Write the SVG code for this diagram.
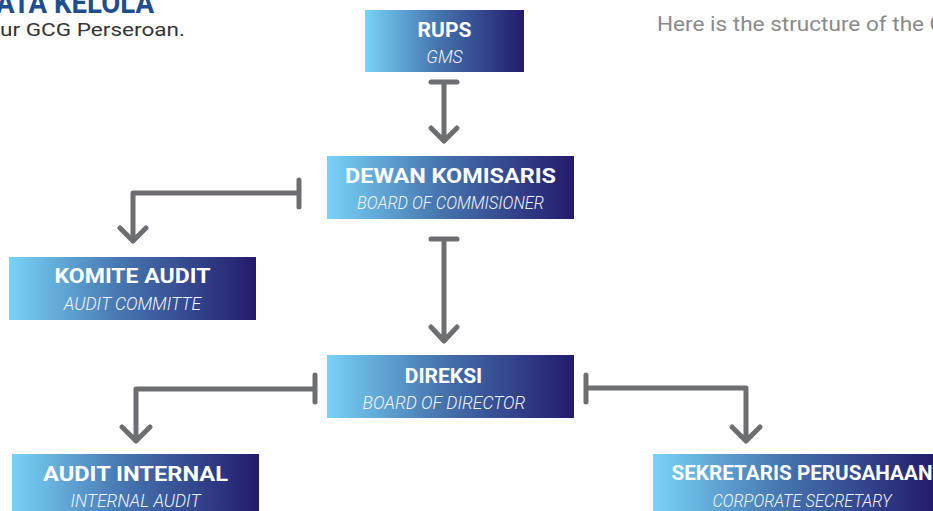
<svg xmlns="http://www.w3.org/2000/svg" width="933" height="511" viewBox="0 0 933 511">
  <defs>
    <linearGradient id="g" x1="0" y1="0" x2="1" y2="0">
      <stop offset="0" stop-color="#78d3f7"/>
      <stop offset="0.45" stop-color="#4676b0"/>
      <stop offset="1" stop-color="#231b6d"/>
    </linearGradient>
    <style>
      .box { fill: url(#g); }
      .t { font-family: Roboto, "Liberation Sans", sans-serif; font-weight: 700; font-size: 21px; fill: #ffffff; text-anchor: middle; }
      .s { font-family: Roboto, "Liberation Sans", sans-serif; font-weight: 300; font-style: italic; font-size: 17.5px; fill: #f2f5fb; text-anchor: middle; }
      .c { fill: none; stroke: #6d6e71; stroke-width: 5; stroke-linecap: round; stroke-linejoin: round; }
      .txt { font-family: Roboto, "Liberation Sans", sans-serif; }
    </style>
  </defs>
  <rect width="933" height="511" fill="#ffffff"/>

  <text class="txt" x="-4" y="13" font-size="29" font-weight="700" fill="#1e4e8c" textLength="158" lengthAdjust="spacingAndGlyphs">ATA KELOLA</text>
  <text class="txt" x="0" y="36" font-size="19" fill="#333333" textLength="185" lengthAdjust="spacingAndGlyphs">ur GCG Perseroan.</text>
  <text class="txt" x="657" y="31" font-size="19.5" fill="#8a8a8a" textLength="288" lengthAdjust="spacingAndGlyphs">Here is the structure of the G</text>

  <g id="connectors">
    <path class="c" d="M431 82 H457 M444 82 V141 M431 128 L444 141 L457 128"/>
    <path class="c" d="M431 239 H457 M444 239 V341 M431 327 L444 341 L457 327"/>
    <path class="c" d="M299 180 V207 M299 193 H133 V241 M120 228 L133 241 L146 228"/>
    <path class="c" d="M315 375 V402 M315 389 H136 V440 M122 427 L136 441 L150 427"/>
    <path class="c" d="M586 375 V402 M586 388 H746 V440 M732 427 L746 441 L760 427"/>
  </g>

  <g id="rups">
    <rect class="box" x="365" y="10" width="159" height="62"/>
    <text class="t" x="444.5" y="37">RUPS</text>
    <text class="s" x="444.5" y="63">GMS</text>
  </g>
  <g id="dewan-komisaris">
    <rect class="box" x="327" y="156" width="247" height="63"/>
    <text class="t" x="450.5" y="183" textLength="211" lengthAdjust="spacingAndGlyphs">DEWAN KOMISARIS</text>
    <text class="s" x="450.5" y="209" textLength="187" lengthAdjust="spacingAndGlyphs">BOARD OF COMMISIONER</text>
  </g>
  <g id="komite-audit">
    <rect class="box" x="9" y="257" width="247" height="63"/>
    <text class="t" x="132.5" y="283" textLength="156" lengthAdjust="spacingAndGlyphs">KOMITE AUDIT</text>
    <text class="s" x="132.5" y="310">AUDIT COMMITTE</text>
  </g>
  <g id="direksi">
    <rect class="box" x="327" y="355" width="247" height="63"/>
    <text class="t" x="443.5" y="383">DIREKSI</text>
    <text class="s" x="444" y="409">BOARD OF DIRECTOR</text>
  </g>
  <g id="audit-internal">
    <rect class="box" x="12" y="454" width="247" height="63"/>
    <text class="t" x="135.5" y="481" textLength="185" lengthAdjust="spacingAndGlyphs">AUDIT INTERNAL</text>
    <text class="s" x="135.5" y="507">INTERNAL AUDIT</text>
  </g>
  <g id="sekretaris-perusahaan">
    <rect class="box" x="653" y="454" width="282" height="63"/>
    <text class="t" x="802" y="480" textLength="261" lengthAdjust="spacingAndGlyphs">SEKRETARIS PERUSAHAAN</text>
    <text class="s" x="802" y="507" textLength="179" lengthAdjust="spacingAndGlyphs">CORPORATE SECRETARY</text>
  </g>
</svg>
